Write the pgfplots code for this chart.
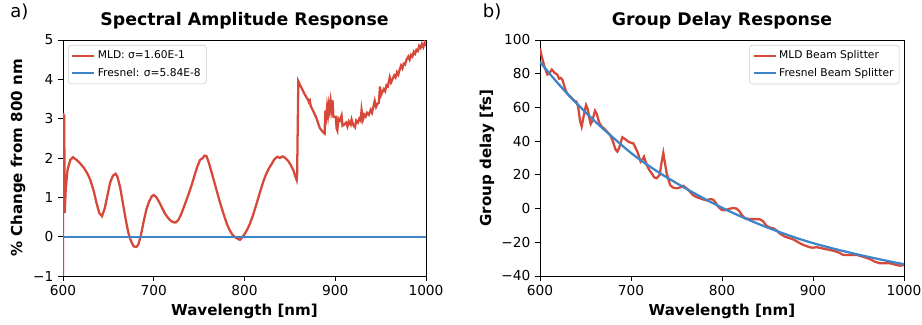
\documentclass[border=0pt]{standalone}
\usepackage{fontspec}
\setmainfont{DejaVu Sans}
\usepackage{pgfplots}
\pgfplotsset{compat=1.18}
\definecolor{mldred}{RGB}{214,72,58}
\definecolor{frblue}{RGB}{62,132,198}
\pgfplotsset{
  common/.style={
    scale only axis,
    width=272.25pt, height=177pt,
    xmin=600, xmax=1000,
    xtick={600,700,800,900,1000},
    xticklabels={600,700,800,900,1000},
    tick align=outside,
    xtick pos=bottom, ytick pos=left,
    major tick length=3.75pt,
    tick style={black, line width=0.6pt},
    axis line style={line width=0.6pt},
    /pgf/number format/assume math mode=true,
    tick label style={font=\fontsize{10.3}{12}\selectfont},
    label style={font=\bfseries\fontsize{11.3}{13}\selectfont},
    title style={font=\bfseries\fontsize{13}{15}\selectfont, at={(axis description cs:0.5,1)}, anchor=base, yshift=5pt},
    xlabel style={at={(axis description cs:0.5,0)}, anchor=base, yshift=-30pt},
    legend style={font=\fontsize{8}{9.6}\selectfont, draw=black!20, rounded corners=2pt, fill=white, fill opacity=0.8, text opacity=1, row sep=1.5pt, inner sep=2.2pt},
    legend cell align=left,
    legend image code/.code={\draw[#1, line width=1.5pt] (0cm,0cm) -- (0.58cm,0cm);},
  }
}
\begin{document}
\begin{tikzpicture}
\path[use as bounding box] (0,0) rectangle (691.5pt,243.75pt);
\node[anchor=base west, font=\fontsize{13.5}{16}\selectfont, inner sep=0pt] at (7.5pt,230.8pt) {a)};
\node[anchor=base west, font=\fontsize{13.5}{16}\selectfont, inner sep=0pt] at (362pt,230.8pt) {b)};
\begin{axis}[common,
  at={(47.25pt,36.75pt)}, anchor=south west,
  ymin=-1, ymax=5,
  ytick={-1,0,1,2,3,4,5},
  yticklabels={−1,0,1,2,3,4,5},
  title={Spectral Amplitude Response},
  xlabel={Wavelength [nm]},
  ylabel={\% Change from 800 nm},
  ylabel style={at={(axis description cs:-0.124,0.5)}, anchor=center},
  legend style={at={(axis description cs:0,1)}, anchor=north west, xshift=3.75pt, yshift=-3.75pt},
]
\addplot[mldred, line width=1.7pt] coordinates {
(600,-1.0) (600.3,3.15) (600.8,0.6) (601.3,3.1) (601.9,0.6) (603,1.2) (605,1.7) (608,1.95) (611,2.02) (615,1.95) (619,1.86) (623,1.75) (627,1.6) (630,1.45) (634,1.15) (637,0.85) (640,0.6) (643,0.52) (646,0.72) (649,1.05) (652,1.38) (655,1.55) (658,1.6) (660,1.52) (663,1.25) (666,0.85) (669,0.45) (672,0.1) (675,-0.12) (678,-0.25) (681,-0.26) (683,-0.2) (686,0.05) (689,0.4) (692,0.7) (695,0.9) (698,1.03) (700,1.06) (703,1.0) (706,0.88) (709,0.74) (712,0.6) (715,0.5) (718,0.42) (721,0.37) (724,0.36) (727,0.42) (730,0.56) (733,0.74) (736,0.93) (739,1.12) (742,1.33) (745,1.56) (748,1.78) (751,1.95) (754,2.0) (756,2.06) (758,2.05) (760,1.93) (763,1.7) (766,1.45) (769,1.2) (772,0.95) (775,0.72) (778,0.5) (781,0.3) (784,0.15) (787,0.04) (790,-0.02) (793,-0.06) (795,-0.08) (797,-0.03) (800,0.06) (803,0.18) (806,0.33) (809,0.52) (812,0.74) (815,0.97) (818,1.2) (821,1.42) (824,1.6) (827,1.74) (830,1.85) (833,1.97) (836,2.03) (839,2.0) (842,2.04) (845,2.0) (848,1.93) (851,1.82) (854,1.68) (856.5,1.5) (857.5,1.44) (858,1.6) (859.3,3.95) (862,3.82) (865,3.68) (868,3.55) (870,3.48) (871,3.42) (872,3.46) (873,3.32) (876,3.18) (879,3.03) (883,2.76) (886.8,2.65) (888.3,2.62) (889,3.2) (890,3.05) (891,3.3) (892,3.1) (893,3.35) (894,3.2) (895,3.44) (896,3.25) (897,3.47) (898,3.05) (900.5,3.05) (901.5,2.75) (902.3,2.7) (903.5,3.0) (905,2.95) (907,3.08) (908,2.82) (910,2.85) (912,2.9) (913.5,2.8) (915,2.93) (917,2.85) (918,2.98) (920,2.83) (921.8,2.78) (923,2.95) (925,2.9) (926.5,3.0) (928,2.95) (929,3.22) (930.5,2.98) (932,3.1) (933.5,3.05) (935,3.15) (937,3.1) (939,3.22) (940.5,3.15) (942,3.3) (943.5,3.45) (945,3.3) (946.5,3.38) (948,3.4) (949.3,3.82) (950.5,3.6) (952,3.68) (953.5,3.75) (955,3.7) (956.5,3.85) (958,3.82) (960,4.05) (961.5,3.92) (963,4.0) (965,4.1) (966.5,4.05) (968,4.18) (969.5,4.12) (971,4.25) (972.5,4.35) (974,4.28) (975.5,4.4) (977,4.38) (978.5,4.5) (980.5,4.58) (982,4.5) (983.5,4.62) (985,4.58) (986.5,4.7) (988,4.65) (989.5,4.75) (991,4.72) (992.5,4.85) (994,4.8) (995.5,4.9) (997,4.82) (998.5,4.93) (1000,4.85)
};
\addlegendentry{MLD: σ=1.60E-1}
\addplot[frblue, line width=1.7pt] coordinates {(600,0) (1000,0)};
\addlegendentry{Fresnel: σ=5.84E-8}
\end{axis}
\begin{axis}[common,
  at={(405pt,36.75pt)}, anchor=south west, width=273pt,
  ymin=-40, ymax=100,
  ytick={-40,-20,0,20,40,60,80,100},
  yticklabels={−40,−20,0,20,40,60,80,100},
  title={Group Delay Response},
  xlabel={Wavelength [nm]},
  ylabel={Group delay [fs]},
  ylabel style={at={(axis description cs:-0.1456,0.5)}, anchor=center},
  legend style={at={(axis description cs:1,1)}, anchor=north east, xshift=-3.5pt, yshift=-3.75pt},
]
\addplot[mldred, line width=1.7pt] coordinates {
(600,95) (602,90) (605,84) (608,79.5) (610,80) (613,82.5) (616,80.5) (619,79.5) (621,77) (623,77.5) (625,76) (627,72) (629.5,68.5) (632,67) (635,65.5) (637.5,64) (640,63.5) (642,60) (644,52) (645.8,48.6) (648,55) (650.6,61.4) (652.5,59) (654.5,53) (655.7,50.2) (657.5,52) (660.4,58) (662.5,56) (665,51) (667.8,48.6) (670.5,47.5) (673,46) (677,43.7) (680,40) (683,35) (685,33.8) (687,36) (690.5,42.3) (694,41) (697,39.7) (700,39) (702.6,38.7) (705,36) (707,33.8) (710.6,27.8) (712.5,29) (714.3,30.8) (717.2,25.9) (720,23) (722.7,20.9) (725.5,18.5) (728.2,18) (731.5,20) (733.5,27) (735.5,33) (737,28) (739.2,20.9) (742.9,14) (746,12.5) (750.2,12) (754,12.5) (757.5,13.5) (761,12) (764.8,10) (768,8) (772,6.8) (775.8,6.1) (779,5.5) (783,4.8) (786,5.5) (788.6,5.5) (790.5,5.2) (793,3.5) (796,1) (799.7,-0.8) (803,-1) (806,-0.5) (809,0) (812.5,0.3) (816,0) (819,-1.5) (822,-4) (825.3,-5.8) (830,-6.2) (835,-6.3) (841.8,-6.4) (845,-7.5) (849.1,-10.3) (853,-11.3) (856.4,-11.7) (860,-13) (864,-15) (869.2,-16.7) (874,-17.5) (879,-18.5) (885.7,-20.6) (890,-21.7) (896.7,-23) (900,-23.2) (903.9,-22.9) (910,-23.6) (916,-24.3) (922.3,-25) (928,-26) (933.3,-27.5) (940,-27.6) (948,-27.5) (955,-28.6) (962.7,-30) (968,-31.5) (973.7,-32.5) (980,-32.4) (984.7,-32.5) (990,-33.2) (995.6,-33.9) (1000,-33.5)
};
\addlegendentry{MLD Beam Splitter}
\addplot[frblue, line width=1.7pt, smooth] coordinates {
(600,87) (612.5,78.8) (625,71.1) (637.5,63.9) (650,57.1) (662.5,50.7) (675,44.6) (687.5,38.7) (700,33.0) (712.5,28.0) (725,23.4) (737.5,19.1) (750,15.1) (762.5,11.2) (775,7.5) (787.5,3.9) (800,0.5) (812.5,-2.7) (825,-5.7) (837.5,-8.55) (850,-11.25) (862.5,-13.8) (875,-16.2) (887.5,-18.45) (900,-20.5) (912.5,-22.35) (925,-24.1) (937.5,-25.75) (950,-27.35) (962.5,-28.85) (975,-30.3) (987.5,-31.7) (1000,-33.0)
};
\addlegendentry{Fresnel Beam Splitter}
\end{axis}
\end{tikzpicture}
\end{document}
